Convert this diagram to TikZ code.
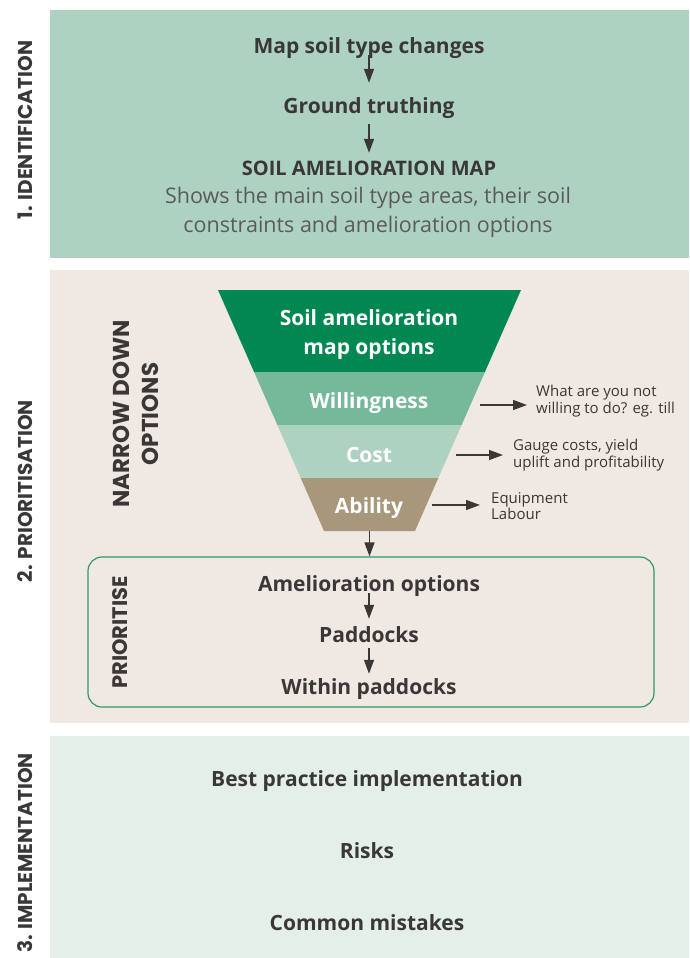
\documentclass[tikz,border=0pt]{standalone}
\usepackage{fontspec}
\setmainfont{Open Sans}
\newfontfamily\sidefont{Poppins}
\usepackage{tikz}
\usetikzlibrary{arrows.meta,positioning}
\definecolor{idfill}{HTML}{ADD2C2}
\definecolor{prfill}{HTML}{F0E8E3}
\definecolor{imfill}{HTML}{E4EFE9}
\definecolor{ink}{HTML}{3A3836}
\definecolor{greyink}{HTML}{5B5B5B}
\definecolor{band1}{HTML}{008752}
\definecolor{band2}{HTML}{75B89A}
\definecolor{band3}{HTML}{ADD2C0}
\definecolor{band4}{HTML}{A8977B}
\definecolor{boxline}{HTML}{2F9A68}
\tikzset{
  sidelab/.style={rotate=90, text=ink, inner sep=0pt, font=\sidefont\bfseries\fontsize{20}{22}\selectfont},
  steptxt/.style={text=ink, font=\bfseries\fontsize{21}{24}\selectfont, inner sep=0pt,
    text height=14pt, text depth=5pt},
  desctxt/.style={text=greyink, font=\fontsize{21.5}{29}\selectfont, align=center},
  bandtxt/.style={text=white, font=\bfseries\fontsize{21}{29}\selectfont, align=center},
  notetxt/.style={text=ink, font=\fontsize{15}{16.5}\selectfont, align=left, anchor=west, inner sep=0pt},
  flow/.style={draw=ink, line width=1.4pt, -{Triangle[length=14pt,width=10pt]}},
  prbox/.style={draw=boxline, line width=1.2pt, rounded corners=14pt, fill=prfill,
    minimum width=566pt, minimum height=150pt},
}
\begin{document}
\begin{tikzpicture}[x=1pt,y=-1pt]
  \useasboundingbox (0,0) rectangle (689,958);
  % panels
  \fill[idfill] (50,10) rectangle (689,258);
  \fill[prfill] (50,270) rectangle (689,723);
  \fill[imfill] (50,736) rectangle (689,958);
  \node[sidelab] (s1) at (25,130) {1. IDENTIFICATION};
  \node[sidelab] (s2) at (25,491) {2. PRIORITISATION};
  \node[sidelab] (s3) at (25,853) {3. IMPLEMENTATION};

  % 1. identification
  \node[steptxt] (map) at (369,49.5) {Map soil type changes};
  \node[steptxt] (ground) at (369,108.5) {Ground truthing};
  \node[steptxt, font=\bfseries\fontsize{20}{24}\selectfont] (samap) at (369,170.5) {SOIL AMELIORATION MAP};
  \node[desctxt] (shows) at (368,212) {Shows the main soil type areas, their soil\\constraints and amelioration options};
  \draw[flow, shorten <=-4pt, shorten >=16pt] (map) -- (ground);
  \draw[flow, shorten <=6pt, shorten >=8pt] (ground) -- (samap);

  % 2. funnel
  \coordinate (f0l) at (218,290);   \coordinate (f0r) at (521,290);
  \coordinate (f1l) at (254.1,372); \coordinate (f1r) at (484.9,372);
  \coordinate (f2l) at (277.4,425); \coordinate (f2r) at (461.6,425);
  \coordinate (f3l) at (300.7,478); \coordinate (f3r) at (438.3,478);
  \coordinate (f4l) at (324,531);   \coordinate (f4r) at (415,531);
  \fill[band1] (f0l) -- (f0r) -- (f1r) -- (f1l) -- cycle;
  \fill[band2] (f1l) -- (f1r) -- (f2r) -- (f2l) -- cycle;
  \fill[band3] (f2l) -- (f2r) -- (f3r) -- (f3l) -- cycle;
  \fill[band4] (f3l) -- (f3r) -- (f4r) -- (f4l) -- cycle;
  \node[bandtxt] (opts) at (369,335) {Soil amelioration\\map options};
  \node[bandtxt] (will) at (369,403) {Willingness};
  \node[bandtxt] (cost) at (369,455) {Cost};
  \node[bandtxt] (abil) at (369,508) {Ability};
  \node[sidelab, align=center, font=\sidefont\bfseries\fontsize{23}{28.5}\selectfont] (narrow) at (136,414) {NARROW DOWN\\OPTIONS};

  \node[notetxt] (wnote) at (536,401) {What are you not\\willing to do? eg. till};
  \node[notetxt] (cnote) at (513,455) {Gauge costs, yield\\uplift and profitability};
  \node[notetxt] (anote) at (491,506) {Equipment\\Labour};
  \coordinate (wr) at (480,405);
  \coordinate (cr) at (456,455);
  \coordinate (ar) at (432,505);
  \draw[flow, shorten >=9pt] (wr) -- (wr -| wnote.west);
  \draw[flow, shorten >=10pt] (cr) -- (cr -| cnote.west);
  \draw[flow, shorten >=11pt] (ar) -- (ar -| anote.west);

  % prioritise box
  \node[prbox] (pbox) at (371,632) {};
  \coordinate (fbot) at (369.5,531);
  \draw[flow] (fbot) -- (fbot |- pbox.north);
  \node[sidelab, font=\sidefont\bfseries\fontsize{21}{22}\selectfont] (prio) at (120.5,632.5) {PRIORITISE};
  \node[steptxt] (amel) at (369,586.5) {Amelioration options};
  \node[steptxt] (padd) at (369,637.5) {Paddocks};
  \node[steptxt] (within) at (369,689.5) {Within paddocks};
  \draw[flow, shorten <=-3pt, shorten >=9pt] (amel) -- (padd);
  \draw[flow, shorten <=1pt, shorten >=6pt] (padd) -- (within);

  % 3. implementation
  \node[steptxt] (best) at (367,781.5) {Best practice implementation};
  \node[steptxt] (risks) at (367,853.5) {Risks};
  \node[steptxt] (common) at (367,925.5) {Common mistakes};
\end{tikzpicture}
\end{document}
